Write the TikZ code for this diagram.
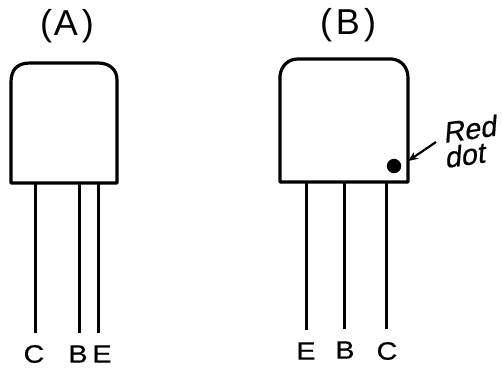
\documentclass[tikz,border=0pt]{standalone}
\usepackage{fontspec}
\setmainfont{Liberation Sans}
\newfontfamily\labfont[FakeBold=0.6]{Liberation Sans}
\newfontfamily\notefont[FakeBold=0.6,FakeSlant=0.22]{Liberation Sans}
\usetikzlibrary{arrows.meta}
\tikzset{
  body/.style={line width=3.2pt,line join=round},
  pin/.style={line width=3pt},
  title/.style={inner sep=0pt,font=\fontsize{36}{36}\selectfont},
  pinlabel/.style={inner sep=0pt,xscale=1.15,font=\fontsize{25}{25}\selectfont\labfont},
  note/.style={inner sep=0pt,font=\fontsize{29}{29}\selectfont\notefont},
}
\begin{document}
\begin{tikzpicture}[x=1pt,y=-1pt]
\useasboundingbox (0,0) rectangle (502,368);
% Device A
\draw[body] (11,183) -- (11,82) .. controls (11,69) and (18,63) .. (30,63) -- (98,63) .. controls (110,63) and (117,70) .. (117,80) -- (117,183) -- cycle;
\coordinate (a1t) at (35,183); \coordinate (a1b) at (35,333);
\coordinate (a2t) at (79,183); \coordinate (a2b) at (79,333);
\coordinate (a3t) at (98,183); \coordinate (a3b) at (98,333);
\draw[pin] (a1t) -- (a1b);
\draw[pin] (a2t) -- (a2b);
\draw[pin] (a3t) -- (a3b);
\node[title] (ta) at (67,26) {(\kern2pt A\kern4pt)};
\node[pinlabel] (ac) at (34,354) {C};
\node[pinlabel] (ab) at (78,354) {B};
\node[pinlabel] (ae) at (102,354) {E};
% Device B
\draw[body] (280,182) -- (280,76) .. controls (281,66) and (288,59) .. (298,59) -- (392,59) .. controls (402,60) and (408,68) .. (408,78) -- (408,182) -- cycle;
\coordinate (b1t) at (306,182); \coordinate (b1b) at (306,330);
\coordinate (b2t) at (344,182); \coordinate (b2b) at (344,329);
\coordinate (b3t) at (386,182); \coordinate (b3b) at (386,329);
\draw[pin] (b1t) -- (b1b);
\draw[pin] (b2t) -- (b2b);
\draw[pin] (b3t) -- (b3b);
\node[title] (tb) at (348,25) {(\kern4pt B\kern4pt)};
\node[pinlabel] (be) at (306,351) {E};
\node[pinlabel] (bb) at (345,350) {B};
\node[pinlabel] (bc) at (387,351) {C};
% Red dot
\fill (394,166) circle (7.2);
\node[note,rotate=8] (red) at (469,129) {Red};
\node[note,rotate=8] (dot) at (464,155) {dot};
\coordinate (tip) at (408,161);
\coordinate (tail) at (436,142);
\draw[line width=2.2pt,-{Stealth[length=10pt,width=8pt]}] (tail) -- (tip);
\end{tikzpicture}
\end{document}
